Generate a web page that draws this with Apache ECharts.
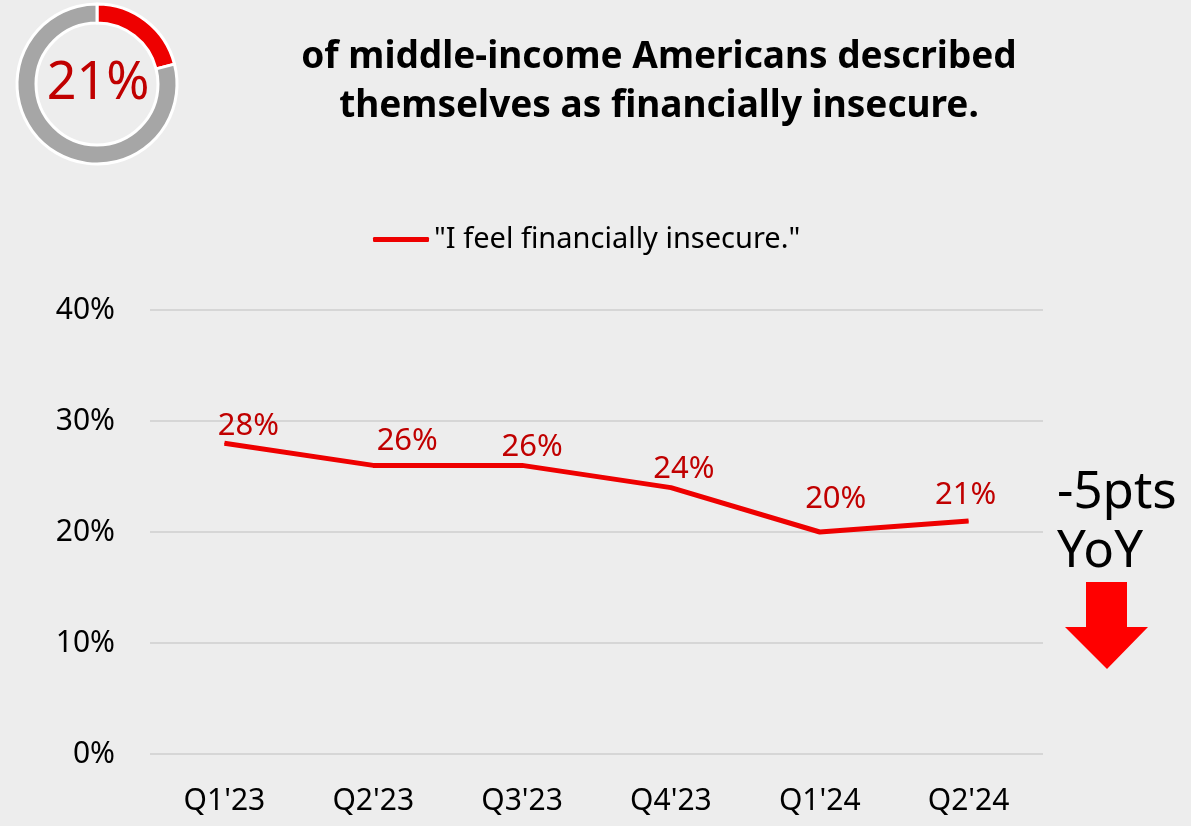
<!DOCTYPE html>
<html>
<head>
<meta charset="utf-8">
<script src="https://cdn.jsdelivr.net/npm/echarts@6/dist/echarts.min.js"></script>
<style>
  html, body { margin: 0; padding: 0; background: #ededed; }
  #chart { width: 1191px; height: 826px; }
</style>
</head>
<body>
<div id="chart"></div>
<script>
// Quarterly share of middle-income Americans who feel financially insecure
const quarters = ["Q1'23", "Q2'23", "Q3'23", "Q4'23", "Q1'24", "Q2'24"];
const insecurePct = [28, 26, 26, 24, 20, 21];
const seriesName = '"I feel financially insecure."';
const headlinePct = 21;
const yTicks = [0, 10, 20, 30, 40];

// hand-placed nudges for the value labels (pixels, relative to each point)
const labelNudge = [[24, -17], [34, -24], [10, -18], [13, -18], [16, -33], [-3, -26]];

const FONT = '"Noto Sans", "Open Sans", sans-serif';

const chart = echarts.init(document.getElementById('chart'));

chart.setOption({
  backgroundColor: '#ededed',
  animation: false,
  textStyle: { fontFamily: FONT },
  title: {
    text: 'of middle-income Americans described\nthemselves as financially insecure.',
    left: 654,
    top: 28,
    textAlign: 'center',
    textStyle: {
      fontFamily: FONT,
      fontSize: 37,
      fontWeight: 'bold',
      color: '#000',
      lineHeight: 49
    }
  },
  legend: {
    data: [seriesName],
    top: 220,
    left: 368,
    itemWidth: 56,
    itemHeight: 5,
    itemGap: 4,
    icon: 'roundRect',
    textStyle: { fontFamily: FONT, fontSize: 29, color: '#000' }
  },
  grid: { left: 150, right: 148, top: 310, bottom: 72 },
  xAxis: {
    type: 'category',
    data: quarters,
    boundaryGap: true,
    axisLine: { show: false },
    axisTick: { show: false },
    axisLabel: { fontFamily: FONT, fontSize: 30, color: '#000', margin: 32 }
  },
  yAxis: {
    type: 'value',
    min: yTicks[0],
    max: yTicks[yTicks.length - 1],
    interval: 10,
    axisLine: { show: false },
    axisTick: { show: false },
    axisLabel: { fontFamily: FONT, fontSize: 30, color: '#000', margin: 35, formatter: '{value}%' },
    splitLine: { lineStyle: { color: '#d6d6d6', width: 2 } }
  },
  series: [
    {
      name: seriesName,
      type: 'line',
      data: insecurePct,
      symbol: 'circle',
      symbolSize: 1,
      showSymbol: true,
      color: '#ee0000',
      itemStyle: { color: '#ee0000' },
      lineStyle: { color: '#ee0000', width: 5 },
      label: {
        show: true,
        position: 'inside',
        formatter: '{c}%',
        fontFamily: FONT,
        fontSize: 31,
        color: '#c00000'
      },
      labelLayout: function (params) {
        const n = labelNudge[params.dataIndex] || [0, 0];
        return { dx: n[0], dy: n[1], hideOverlap: false };
      }
    },
    {
      type: 'pie',
      center: [97, 84],
      radius: [61, 80],
      startAngle: 90,
      clockwise: true,
      silent: true,
      label: { show: false },
      labelLine: { show: false },
      itemStyle: { borderColor: '#ffffff', borderWidth: 3 },
      data: [
        { value: headlinePct, name: 'insecure', itemStyle: { color: '#ee0000' } },
        { value: 100 - headlinePct, name: 'other', itemStyle: { color: '#a6a6a6' } }
      ]
    }
  ],
  graphic: [
    {
      type: 'text',
      style: {
        text: headlinePct + '%',
        x: 98, y: 84,
        fontFamily: FONT,
        fontSize: 52,
        fill: '#c00000',
        align: 'center',
        verticalAlign: 'middle'
      }
    },
    {
      type: 'text',
      style: {
        text: '-5pts\nYoY',
        x: 1057, y: 464,
        fontFamily: FONT,
        fontSize: 51,
        lineHeight: 59,
        fill: '#000'
      }
    },
    {
      type: 'polygon',
      shape: {
        points: [[1086, 582], [1127, 582], [1127, 627], [1148, 627], [1107, 669], [1065, 627], [1086, 627]]
      },
      style: { fill: '#ff0000' }
    }
  ]
});
</script>
</body>
</html>
